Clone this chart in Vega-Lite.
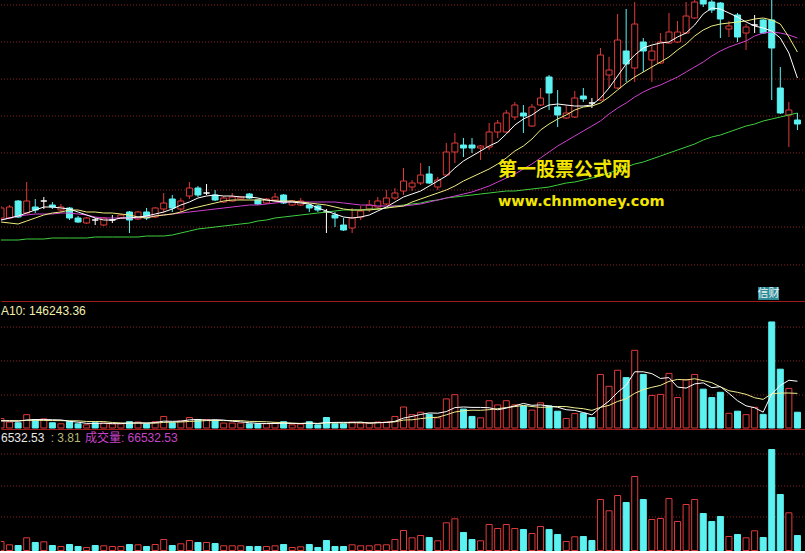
{
"$schema":"https://vega.github.io/schema/vega-lite/v6.json",
"background":"#000000",
"padding":0,
"spacing":0,
"bounds":"flush",
"config":{"view":{"stroke":null},"scale":{"continuousPadding":0},"axisX":{"grid":false,"labels":false,"ticks":false,"domainColor":"#a01c1c","domainWidth":1,"titlePadding":0},"text":{"font":"Liberation Sans"}},
"resolve":{"scale":{"y":"independent"}},
"datasets":{
"g1":[{"g":29.5},{"g":25.8},{"g":22.1},{"g":18.4},{"g":14.7},{"g":11.0},{"g":7.3},{"g":3.5}],
"g2":[{"g":426624},{"g":283008},{"g":139392}],
"g3":[{"g":427978},{"g":286058},{"g":148573}],
"k":[
{"i":0,"o":8.2,"h":9.4,"l":8.1,"c":9.2,"d":"u","v":39915,"m5":8.0,"m10":7.8,"m20":8.0,"m60":6.0,"v5":30000,"v10":31000},
{"i":1,"o":8.2,"h":9.5,"l":8.1,"c":9.3,"d":"u","v":25280,"m5":8.2,"m10":7.7,"m20":8.2,"m60":6.0,"v5":29000,"v10":31500},
{"i":2,"o":9.9,"h":10.0,"l":8.2,"c":8.3,"d":"d","v":22175,"m5":8.4,"m10":7.6,"m20":8.4,"m60":6.0,"v5":28500,"v10":31000},
{"i":3,"o":8.7,"h":11.8,"l":8.6,"c":9.9,"d":"u","v":56325,"m5":8.7,"m10":7.9,"m20":8.5,"m60":6.1,"v5":34000,"v10":32000},
{"i":4,"o":9.3,"h":10.1,"l":8.7,"c":9.0,"d":"d","v":35480,"m5":9.0,"m10":8.2,"m20":8.6,"m60":6.1,"v5":35835,"v10":32500},
{"i":5,"o":9.9,"h":10.3,"l":9.1,"c":9.9,"d":"fu","v":38585,"m5":9.3,"m10":8.5,"m20":8.6,"m60":6.1,"v5":35569,"v10":32000},
{"i":6,"o":9.5,"h":9.8,"l":9.1,"c":9.3,"d":"d","v":22175,"m5":9.3,"m10":8.7,"m20":8.6,"m60":6.2,"v5":34948,"v10":31500},
{"i":7,"o":9.0,"h":9.6,"l":8.8,"c":9.3,"d":"u","v":17740,"m5":9.2,"m10":8.8,"m20":8.7,"m60":6.2,"v5":34061,"v10":31000},
{"i":8,"o":9.2,"h":9.3,"l":8.0,"c":8.2,"d":"d","v":26610,"m5":9.1,"m10":9.0,"m20":8.7,"m60":6.2,"v5":28118,"v10":30500},
{"i":9,"o":8.2,"h":8.4,"l":7.7,"c":7.8,"d":"d","v":17740,"m5":8.8,"m10":9.0,"m20":8.6,"m60":6.2,"v5":24570,"v10":30203},
{"i":10,"o":7.7,"h":8.3,"l":7.6,"c":8.2,"d":"u","v":13305,"m5":8.5,"m10":8.8,"m20":8.5,"m60":6.2,"v5":19514,"v10":27542},
{"i":11,"o":8.0,"h":8.2,"l":7.5,"c":8.0,"d":"fd","v":22175,"m5":8.2,"m10":8.8,"m20":8.3,"m60":6.3,"v5":19514,"v10":27231},
{"i":12,"o":7.5,"h":8.3,"l":7.4,"c":8.2,"d":"u","v":20845,"m5":8.0,"m10":8.7,"m20":8.2,"m60":6.3,"v5":20135,"v10":27098},
{"i":13,"o":8.0,"h":8.5,"l":7.7,"c":8.0,"d":"fu","v":17740,"m5":8.0,"m10":8.7,"m20":8.2,"m60":6.3,"v5":18361,"v10":23240},
{"i":14,"o":8.2,"h":8.6,"l":8.1,"c":8.5,"d":"u","v":17740,"m5":8.2,"m10":8.6,"m20":8.2,"m60":6.3,"v5":18361,"v10":21466},
{"i":15,"o":8.8,"h":8.9,"l":6.7,"c":8.0,"d":"d","v":26610,"m5":8.2,"m10":8.5,"m20":8.2,"m60":6.3,"v5":21022,"v10":20268},
{"i":16,"o":8.1,"h":8.9,"l":8.0,"c":8.8,"d":"u","v":25280,"m5":8.3,"m10":8.3,"m20":8.2,"m60":6.3,"v5":21643,"v10":20579},
{"i":17,"o":8.8,"h":9.2,"l":8.0,"c":8.2,"d":"d","v":17740,"m5":8.4,"m10":8.2,"m20":8.3,"m60":6.4,"v5":21022,"v10":20579},
{"i":18,"o":8.3,"h":9.3,"l":8.2,"c":9.2,"d":"u","v":26610,"m5":8.6,"m10":8.4,"m20":8.4,"m60":6.4,"v5":22796,"v10":20579},
{"i":19,"o":9.1,"h":10.7,"l":8.7,"c":9.7,"d":"u","v":48785,"m5":8.8,"m10":8.5,"m20":8.5,"m60":6.4,"v5":29005,"v10":23683},
{"i":20,"o":10.1,"h":10.5,"l":8.8,"c":9.2,"d":"d","v":22175,"m5":9.1,"m10":8.6,"m20":8.6,"m60":6.5,"v5":28118,"v10":24570},
{"i":21,"o":9.1,"h":10.2,"l":8.8,"c":9.9,"d":"u","v":29715,"m5":9.5,"m10":8.8,"m20":8.7,"m60":6.7,"v5":29005,"v10":25324},
{"i":22,"o":10.4,"h":11.8,"l":10.1,"c":11.2,"d":"u","v":44350,"m5":9.8,"m10":9.1,"m20":8.8,"m60":6.9,"v5":34327,"v10":27675},
{"i":23,"o":11.2,"h":11.4,"l":10.3,"c":10.5,"d":"d","v":35480,"m5":10.2,"m10":9.3,"m20":8.9,"m60":7.1,"v5":36101,"v10":29449},
{"i":24,"o":10.7,"h":11.6,"l":10.5,"c":10.7,"d":"fu","v":35480,"m5":10.4,"m10":9.5,"m20":9.0,"m60":7.2,"v5":33440,"v10":31223},
{"i":25,"o":10.5,"h":11.0,"l":9.9,"c":10.0,"d":"d","v":31045,"m5":10.5,"m10":9.7,"m20":9.1,"m60":7.3,"v5":35214,"v10":31666},
{"i":26,"o":9.8,"h":10.4,"l":9.7,"c":10.2,"d":"u","v":20845,"m5":10.4,"m10":9.9,"m20":9.2,"m60":7.4,"v5":33440,"v10":31223},
{"i":27,"o":9.9,"h":10.7,"l":9.8,"c":10.3,"d":"u","v":20845,"m5":10.4,"m10":10.0,"m20":9.3,"m60":7.5,"v5":28739,"v10":31533},
{"i":28,"o":10.1,"h":10.4,"l":10.0,"c":10.3,"d":"u","v":20845,"m5":10.3,"m10":10.0,"m20":9.4,"m60":7.6,"v5":25812,"v10":30957},
{"i":29,"o":10.6,"h":10.7,"l":10.1,"c":10.2,"d":"d","v":17740,"m5":10.3,"m10":10.0,"m20":9.5,"m60":7.7,"v5":22264,"v10":27852},
{"i":30,"o":10.0,"h":10.1,"l":9.5,"c":9.6,"d":"d","v":17740,"m5":10.2,"m10":10.0,"m20":9.5,"m60":7.9,"v5":19603,"v10":27409},
{"i":31,"o":9.7,"h":10.2,"l":9.6,"c":10.1,"d":"u","v":17740,"m5":10.0,"m10":10.0,"m20":9.6,"m60":8.0,"v5":18982,"v10":26211},
{"i":32,"o":10.0,"h":10.7,"l":9.9,"c":10.3,"d":"u","v":20845,"m5":9.9,"m10":9.9,"m20":9.7,"m60":8.2,"v5":18982,"v10":23861},
{"i":33,"o":10.5,"h":10.6,"l":9.6,"c":9.7,"d":"d","v":26610,"m5":9.8,"m10":9.9,"m20":9.8,"m60":8.3,"v5":20135,"v10":22974},
{"i":34,"o":9.5,"h":10.0,"l":9.4,"c":9.9,"d":"u","v":13305,"m5":9.8,"m10":9.9,"m20":9.8,"m60":8.4,"v5":19248,"v10":20756},
{"i":35,"o":9.5,"h":10.2,"l":9.4,"c":9.9,"d":"u","v":16410,"m5":9.7,"m10":9.8,"m20":9.8,"m60":8.5,"v5":18982,"v10":19293},
{"i":36,"o":9.5,"h":9.6,"l":8.8,"c":9.2,"d":"d","v":26610,"m5":9.6,"m10":9.7,"m20":9.8,"m60":8.6,"v5":20756,"v10":19869},
{"i":37,"o":9.4,"h":9.5,"l":8.8,"c":9.0,"d":"d","v":13305,"m5":9.2,"m10":9.6,"m20":9.8,"m60":8.7,"v5":19248,"v10":19115},
{"i":38,"o":8.8,"h":9.1,"l":6.7,"c":8.8,"d":"fd","v":44350,"m5":8.9,"m10":9.5,"m20":9.8,"m60":8.8,"v5":22796,"v10":21466},
{"i":39,"o":8.5,"h":8.8,"l":7.3,"c":8.2,"d":"d","v":17740,"m5":8.6,"m10":9.3,"m20":9.8,"m60":8.9,"v5":23683,"v10":21466},
{"i":40,"o":7.5,"h":8.2,"l":6.9,"c":7.0,"d":"d","v":17740,"m5":8.3,"m10":9.1,"m20":9.7,"m60":9.0,"v5":23949,"v10":21466},
{"i":41,"o":7.2,"h":9.2,"l":6.7,"c":8.2,"d":"u","v":25280,"m5":8.2,"m10":9.0,"m20":9.6,"m60":9.0,"v5":23683,"v10":22220},
{"i":42,"o":8.3,"h":9.4,"l":8.0,"c":8.9,"d":"u","v":20845,"m5":8.3,"m10":9.0,"m20":9.5,"m60":9.0,"v5":25191,"v10":22220},
{"i":43,"o":9.1,"h":10.0,"l":8.8,"c":9.5,"d":"u","v":20845,"m5":8.5,"m10":9.0,"m20":9.5,"m60":9.1,"v5":20490,"v10":21643},
{"i":44,"o":9.3,"h":10.3,"l":9.0,"c":9.9,"d":"u","v":25280,"m5":8.9,"m10":9.1,"m20":9.4,"m60":9.1,"v5":21998,"v10":22841},
{"i":45,"o":9.6,"h":11.0,"l":9.5,"c":10.2,"d":"u","v":25280,"m5":9.3,"m10":9.2,"m20":9.4,"m60":9.2,"v5":23506,"v10":23728},
{"i":46,"o":10.2,"h":11.2,"l":10.0,"c":10.7,"d":"u","v":48785,"m5":9.8,"m10":9.3,"m20":9.4,"m60":9.4,"v5":28207,"v10":25945},
{"i":47,"o":10.9,"h":13.2,"l":10.5,"c":11.9,"d":"u","v":88700,"m5":10.3,"m10":9.4,"m20":9.4,"m60":9.5,"v5":41778,"v10":33485},
{"i":48,"o":11.3,"h":12.0,"l":10.9,"c":11.7,"d":"u","v":56325,"m5":10.6,"m10":9.8,"m20":9.5,"m60":9.6,"v5":48874,"v10":34682},
{"i":49,"o":11.7,"h":13.7,"l":11.5,"c":12.5,"d":"u","v":66525,"m5":10.9,"m10":10.1,"m20":9.6,"m60":9.7,"v5":57123,"v10":39561},
{"i":50,"o":12.6,"h":13.4,"l":11.6,"c":11.7,"d":"d","v":57655,"m5":11.4,"m10":10.4,"m20":9.8,"m60":9.9,"v5":63598,"v10":43552},
{"i":51,"o":11.3,"h":12.3,"l":11.0,"c":12.0,"d":"u","v":43020,"m5":11.9,"m10":10.7,"m20":10.0,"m60":10.0,"v5":62445,"v10":45326},
{"i":52,"o":12.5,"h":15.7,"l":12.4,"c":14.8,"d":"u","v":122850,"m5":12.4,"m10":11.0,"m20":10.2,"m60":10.2,"v5":69275,"v10":55527},
{"i":53,"o":14.8,"h":16.7,"l":13.7,"c":15.7,"d":"u","v":140590,"m5":13.2,"m10":11.4,"m20":10.4,"m60":10.3,"v5":86128,"v10":67501},
{"i":54,"o":15.5,"h":16.2,"l":14.3,"c":15.2,"d":"d","v":79830,"m5":13.9,"m10":11.9,"m20":10.6,"m60":10.4,"v5":88789,"v10":72956},
{"i":55,"o":15.5,"h":16.2,"l":14.7,"c":15.2,"d":"d","v":48785,"m5":14.4,"m10":12.3,"m20":10.8,"m60":10.5,"v5":87015,"v10":75307},
{"i":56,"o":15.2,"h":15.5,"l":14.0,"c":15.4,"d":"u","v":43020,"m5":14.9,"m10":12.7,"m20":11.1,"m60":10.6,"v5":87015,"v10":74730},
{"i":57,"o":15.3,"h":17.7,"l":15.0,"c":16.8,"d":"u","v":115310,"m5":15.4,"m10":13.1,"m20":11.4,"m60":10.7,"v5":85507,"v10":77391},
{"i":58,"o":16.8,"h":18.0,"l":16.2,"c":17.7,"d":"u","v":97570,"m5":15.8,"m10":13.6,"m20":11.8,"m60":10.8,"v5":76903,"v10":81516},
{"i":59,"o":16.8,"h":19.0,"l":16.7,"c":18.7,"d":"u","v":115310,"m5":16.6,"m10":14.2,"m20":12.2,"m60":10.9,"v5":83999,"v10":86394},
{"i":60,"o":18.3,"h":19.8,"l":18.0,"c":19.5,"d":"u","v":97570,"m5":17.5,"m10":14.9,"m20":12.6,"m60":10.9,"v5":93756,"v10":90386},
{"i":61,"o":18.7,"h":19.5,"l":16.7,"c":18.4,"d":"d","v":93135,"m5":18.1,"m10":15.4,"m20":13.1,"m60":11.0,"v5":103779,"v10":95397},
{"i":62,"o":17.4,"h":19.6,"l":17.3,"c":19.3,"d":"u","v":75395,"m5":18.5,"m10":16.1,"m20":13.6,"m60":11.1,"v5":95796,"v10":90652},
{"i":63,"o":19.5,"h":21.2,"l":19.4,"c":20.2,"d":"u","v":106440,"m5":19.1,"m10":17.0,"m20":14.2,"m60":11.2,"v5":97570,"v10":87237},
{"i":64,"o":22.3,"h":22.5,"l":19.0,"c":20.7,"d":"d","v":93135,"m5":19.5,"m10":17.6,"m20":14.8,"m60":11.3,"v5":93135,"v10":88567},
{"i":65,"o":19.3,"h":21.0,"l":17.3,"c":18.5,"d":"d","v":70960,"m5":19.6,"m10":18.1,"m20":15.4,"m60":11.5,"v5":87813,"v10":90785},
{"i":66,"o":18.2,"h":19.5,"l":18.1,"c":18.7,"d":"u","v":39915,"m5":19.5,"m10":18.5,"m20":15.9,"m60":11.7,"v5":77169,"v10":90474},
{"i":67,"o":18.3,"h":20.9,"l":18.2,"c":20.2,"d":"u","v":60760,"m5":19.4,"m10":19.0,"m20":16.4,"m60":11.8,"v5":74242,"v10":85019},
{"i":68,"o":20.4,"h":21.2,"l":19.8,"c":20.1,"d":"d","v":62090,"m5":19.4,"m10":19.3,"m20":16.9,"m60":12.0,"v5":65372,"v10":81471},
{"i":69,"o":19.7,"h":20.2,"l":19.2,"c":19.7,"d":"fd","v":44350,"m5":19.5,"m10":19.4,"m20":17.4,"m60":12.2,"v5":55615,"v10":74375},
{"i":70,"o":20.0,"h":25.2,"l":19.9,"c":24.5,"d":"u","v":226185,"m5":20.2,"m10":19.7,"m20":17.9,"m60":12.4,"v5":86660,"v10":87237},
{"i":71,"o":22.5,"h":24.3,"l":21.2,"c":23.0,"d":"u","v":176070,"m5":21.2,"m10":20.3,"m20":18.6,"m60":12.7,"v5":113891,"v10":95530},
{"i":72,"o":21.2,"h":28.6,"l":21.1,"c":26.0,"d":"u","v":243925,"m5":22.4,"m10":21.0,"m20":19.2,"m60":13.0,"v5":150524,"v10":112383},
{"i":73,"o":24.9,"h":29.1,"l":21.8,"c":23.6,"d":"d","v":212880,"m5":23.6,"m10":21.7,"m20":19.7,"m60":13.3,"v5":180682,"v10":123027},
{"i":74,"o":23.2,"h":29.8,"l":21.8,"c":27.6,"d":"u","v":328190,"m5":24.5,"m10":22.3,"m20":20.3,"m60":13.6,"v5":237450,"v10":146533},
{"i":75,"o":25.8,"h":26.2,"l":22.8,"c":24.9,"d":"d","v":226185,"m5":25.2,"m10":22.8,"m20":20.8,"m60":13.8,"v5":237450,"v10":162055},
{"i":76,"o":24.0,"h":25.5,"l":21.8,"c":24.9,"d":"u","v":137485,"m5":25.5,"m10":23.3,"m20":21.2,"m60":14.1,"v5":229733,"v10":171812},
{"i":77,"o":23.7,"h":26.7,"l":23.6,"c":25.8,"d":"u","v":141920,"m5":25.7,"m10":23.8,"m20":21.5,"m60":14.4,"v5":209332,"v10":179928},
{"i":78,"o":25.7,"h":28.7,"l":25.6,"c":26.8,"d":"u","v":230620,"m5":25.8,"m10":24.3,"m20":21.9,"m60":14.7,"v5":212880,"v10":196781},
{"i":79,"o":25.8,"h":27.9,"l":25.7,"c":26.8,"d":"u","v":128615,"m5":26.3,"m10":25.0,"m20":22.3,"m60":15.0,"v5":172965,"v10":205208},
{"i":80,"o":26.7,"h":29.8,"l":26.6,"c":28.4,"d":"u","v":204010,"m5":26.7,"m10":25.6,"m20":22.8,"m60":15.3,"v5":168530,"v10":202990},
{"i":81,"o":28.2,"h":30.3,"l":28.1,"c":29.8,"d":"u","v":226185,"m5":27.5,"m10":26.4,"m20":23.3,"m60":15.6,"v5":186270,"v10":208002},
{"i":82,"o":30.6,"h":31.0,"l":29.3,"c":29.6,"d":"d","v":164095,"m5":28.6,"m10":27.0,"m20":23.8,"m60":16.0,"v5":190705,"v10":200019},
{"i":83,"o":29.8,"h":30.0,"l":28.7,"c":29.0,"d":"d","v":128615,"m5":29.2,"m10":27.4,"m20":24.4,"m60":16.3,"v5":170304,"v10":191592},
{"i":84,"o":29.7,"h":29.8,"l":26.2,"c":28.1,"d":"d","v":150790,"m5":29.1,"m10":27.6,"m20":24.9,"m60":16.5,"v5":174739,"v10":173852},
{"i":85,"o":27.1,"h":27.9,"l":26.3,"c":27.4,"d":"u","v":62090,"m5":28.7,"m10":27.7,"m20":25.3,"m60":16.8,"v5":146355,"v10":157443},
{"i":86,"o":28.5,"h":28.7,"l":25.8,"c":26.3,"d":"d","v":70960,"m5":28.3,"m10":27.8,"m20":25.6,"m60":17.1,"v5":115310,"v10":150790},
{"i":87,"o":26.7,"h":27.6,"l":25.0,"c":27.3,"d":"u","v":56325,"m5":27.8,"m10":27.9,"m20":25.9,"m60":17.4,"v5":93756,"v10":142231},
{"i":88,"o":27.5,"h":28.5,"l":26.7,"c":27.5,"d":"fu","v":87370,"m5":27.4,"m10":28.1,"m20":26.4,"m60":17.6,"v5":85507,"v10":127906},
{"i":89,"o":28.0,"h":28.1,"l":26.6,"c":26.7,"d":"d","v":57655,"m5":27.2,"m10":28.2,"m20":26.7,"m60":17.9,"v5":66880,"v10":120810},
{"i":90,"o":28.0,"h":30.0,"l":20.0,"c":25.2,"d":"d","v":447935,"m5":26.9,"m10":28.0,"m20":26.8,"m60":18.1,"v5":144049,"v10":145202},
{"i":91,"o":21.2,"h":23.3,"l":18.6,"c":18.7,"d":"d","v":248360,"m5":26.2,"m10":27.6,"m20":26.7,"m60":18.3,"v5":179529,"v10":147420},
{"i":92,"o":18.5,"h":19.8,"l":15.3,"c":19.0,"d":"u","v":167200,"m5":24.7,"m10":26.3,"m20":26.5,"m60":18.5,"v5":201704,"v10":147730},
{"i":93,"o":18.0,"h":18.7,"l":17.0,"c":17.6,"d":"d","v":66533,"m5":22.2,"m10":24.8,"m20":26.2,"m60":18.7,"v5":197536,"v10":146243}
]},
"vconcat":[
{"width":805,"height":301,"data":{"name":"k"},
"layer":[
{"data":{"name":"g1"},"mark":{"type":"rule","stroke":"#8a2020","strokeDash":[1,2],"strokeWidth":1},"encoding":{"y":{"field":"g","type":"quantitative","axis":null,"scale":{"domain":[-0.1,30],"nice":false,"zero":false}}}},
{"mark":{"type":"rule","strokeWidth":1,"clip":true},"encoding":{"x":{"field":"i","type":"quantitative","title":null,"scale":{"domain":[0,94],"nice":false,"zero":false,"padding":0}},"y":{"field":"l","type":"quantitative","axis":null,"scale":{"domain":[-0.1,30],"nice":false,"zero":false}},"y2":{"field":"h"},"color":{"condition":[{"test":"datum.d==='u'","value":"#e03a3a"},{"test":"datum.d==='d'","value":"#5cf2f2"}],"value":"#ffffff"}}},
{"mark":{"type":"bar","orient":"vertical","size":6,"strokeWidth":1,"clip":true},"encoding":{"x":{"field":"i","type":"quantitative","title":null,"scale":{"domain":[0,94],"nice":false,"zero":false,"padding":0}},"y":{"field":"o","type":"quantitative","axis":null,"scale":{"domain":[-0.1,30],"nice":false,"zero":false}},"y2":{"field":"c"},"fill":{"condition":[{"test":"datum.d==='u'","value":"#000000"},{"test":"datum.d==='d'","value":"#5cf2f2"}],"value":"#ffffff"},"stroke":{"condition":[{"test":"datum.d==='u'","value":"#e03a3a"},{"test":"datum.d==='d'","value":"#5cf2f2"}],"value":"#ffffff"}}},
{"mark":{"type":"line","color":"#3fcf3f","strokeWidth":1,"clip":true},"encoding":{"x":{"field":"i","type":"quantitative","title":null,"scale":{"domain":[0,94],"nice":false,"zero":false,"padding":0}},"y":{"field":"m60","type":"quantitative","axis":null,"scale":{"domain":[-0.1,30],"nice":false,"zero":false}}}},
{"mark":{"type":"line","color":"#d040d0","strokeWidth":1,"clip":true},"encoding":{"x":{"field":"i","type":"quantitative","title":null,"scale":{"domain":[0,94],"nice":false,"zero":false,"padding":0}},"y":{"field":"m20","type":"quantitative","axis":null,"scale":{"domain":[-0.1,30],"nice":false,"zero":false}}}},
{"mark":{"type":"line","color":"#eeee80","strokeWidth":1,"clip":true},"encoding":{"x":{"field":"i","type":"quantitative","title":null,"scale":{"domain":[0,94],"nice":false,"zero":false,"padding":0}},"y":{"field":"m10","type":"quantitative","axis":null,"scale":{"domain":[-0.1,30],"nice":false,"zero":false}}}},
{"mark":{"type":"line","color":"#ffffff","strokeWidth":1,"clip":true},"encoding":{"x":{"field":"i","type":"quantitative","title":null,"scale":{"domain":[0,94],"nice":false,"zero":false,"padding":0}},"y":{"field":"m5","type":"quantitative","axis":null,"scale":{"domain":[-0.1,30],"nice":false,"zero":false}}}},
{"data":{"values":[{}]},"mark":{"type":"text","text":"第一股票公式网","font":"Noto Sans CJK SC","fontWeight":"bold","fontSize":19,"color":"#f2e600","align":"left","baseline":"middle"},"encoding":{"x":{"datum":58.03,"type":"quantitative","scale":{"domain":[0,94],"nice":false,"zero":false,"padding":0}},"y":{"datum":13.0,"type":"quantitative","scale":{"domain":[-0.1,30],"nice":false,"zero":false}}}},
{"data":{"values":[{}]},"mark":{"type":"text","text":"www.chnmoney.com","font":"DejaVu Sans","fontWeight":"bold","fontSize":14.5,"color":"#f2e600","align":"left","baseline":"middle"},"encoding":{"x":{"datum":58.03,"type":"quantitative","scale":{"domain":[0,94],"nice":false,"zero":false,"padding":0}},"y":{"datum":9.8,"type":"quantitative","scale":{"domain":[-0.1,30],"nice":false,"zero":false}}}},
{"data":{"values":[{}]},"mark":{"type":"rect","color":"#2f8a98"},"encoding":{"x":{"datum":88.4,"type":"quantitative","scale":{"domain":[0,94],"nice":false,"zero":false,"padding":0}},"x2":{"datum":90.85},"y":{"datum":1.3,"type":"quantitative","scale":{"domain":[-0.1,30],"nice":false,"zero":false}},"y2":{"datum":0.0}}},
{"data":{"values":[{}]},"mark":{"type":"text","text":"信财","font":"Noto Sans CJK SC","fontSize":11,"color":"#e8f4f4","align":"center","baseline":"middle"},"encoding":{"x":{"datum":89.62,"type":"quantitative","scale":{"domain":[0,94],"nice":false,"zero":false,"padding":0}},"y":{"datum":0.65,"type":"quantitative","scale":{"domain":[-0.1,30],"nice":false,"zero":false}}}}
]},
{"width":805,"height":128,"data":{"name":"k"},
"layer":[
{"data":{"name":"g2"},"mark":{"type":"rule","stroke":"#8a2020","strokeDash":[1,2],"strokeWidth":1},"encoding":{"y":{"field":"g","type":"quantitative","axis":null,"scale":{"domain":[-4224,536448],"nice":false,"zero":false}}}},
{"mark":{"type":"bar","orient":"vertical","size":6,"strokeWidth":1,"clip":true},"encoding":{"x":{"field":"i","type":"quantitative","title":null,"scale":{"domain":[0,94],"nice":false,"zero":false,"padding":0}},"y":{"field":"v","type":"quantitative","axis":null,"scale":{"domain":[-4224,536448],"nice":false,"zero":false}},"y2":{"datum":0},"fill":{"condition":{"test":"datum.d==='u'||datum.d==='fu'","value":"#000000"},"value":"#5cf2f2"},"stroke":{"condition":{"test":"datum.d==='u'||datum.d==='fu'","value":"#e03a3a"},"value":"#5cf2f2"}}},
{"mark":{"type":"line","color":"#eeee90","strokeWidth":1,"clip":true},"encoding":{"x":{"field":"i","type":"quantitative","title":null,"scale":{"domain":[0,94],"nice":false,"zero":false,"padding":0}},"y":{"field":"v10","type":"quantitative","axis":null,"scale":{"domain":[-4224,536448],"nice":false,"zero":false}}}},
{"mark":{"type":"line","color":"#ffffff","strokeWidth":1,"clip":true},"encoding":{"x":{"field":"i","type":"quantitative","title":null,"scale":{"domain":[0,94],"nice":false,"zero":false,"padding":0}},"y":{"field":"v5","type":"quantitative","axis":null,"scale":{"domain":[-4224,536448],"nice":false,"zero":false}}}},
{"data":{"values":[{}]},"mark":{"type":"text","text":"A10: 146243.36","fontSize":12,"color":"#f0f0b0","align":"left","baseline":"middle"},"encoding":{"x":{"datum":0,"type":"quantitative","scale":{"domain":[0,94],"nice":false,"zero":false,"padding":0}},"y":{"datum":494208,"type":"quantitative","scale":{"domain":[-4224,536448],"nice":false,"zero":false}}}}
]},
{"width":805,"height":122,"data":{"name":"k"},
"layer":[
{"data":{"name":"g3"},"mark":{"type":"rule","stroke":"#8a2020","strokeDash":[1,2],"strokeWidth":1},"encoding":{"y":{"field":"g","type":"quantitative","axis":null,"scale":{"domain":[-2218,538853],"nice":false,"zero":false}}}},
{"mark":{"type":"bar","orient":"vertical","size":6,"strokeWidth":1,"clip":true},"encoding":{"x":{"field":"i","type":"quantitative","title":null,"scale":{"domain":[0,94],"nice":false,"zero":false,"padding":0}},"y":{"field":"v","type":"quantitative","axis":null,"scale":{"domain":[-2218,538853],"nice":false,"zero":false}},"y2":{"datum":0},"fill":{"condition":{"test":"datum.d==='u'||datum.d==='fu'","value":"#000000"},"value":"#5cf2f2"},"stroke":{"condition":{"test":"datum.d==='u'||datum.d==='fu'","value":"#e03a3a"},"value":"#5cf2f2"}}},
{"data":{"values":[{}]},"mark":{"type":"text","text":"6532.53","fontSize":12,"color":"#e8e8e8","align":"left","baseline":"middle"},"encoding":{"x":{"datum":0,"type":"quantitative","scale":{"domain":[0,94],"nice":false,"zero":false,"padding":0}},"y":{"datum":498938,"type":"quantitative","scale":{"domain":[-2218,538853],"nice":false,"zero":false}}}},
{"data":{"values":[{}]},"mark":{"type":"text","text":": 3.81","fontSize":12,"color":"#b8b878","align":"left","baseline":"middle"},"encoding":{"x":{"datum":5.8,"type":"quantitative","scale":{"domain":[0,94],"nice":false,"zero":false,"padding":0}},"y":{"datum":498938,"type":"quantitative","scale":{"domain":[-2218,538853],"nice":false,"zero":false}}}},
{"data":{"values":[{}]},"mark":{"type":"text","text":"成交量: 66532.53","font":"Liberation Sans, Noto Sans CJK SC","fontSize":12,"color":"#c844c8","align":"left","baseline":"middle"},"encoding":{"x":{"datum":9.8,"type":"quantitative","scale":{"domain":[0,94],"nice":false,"zero":false,"padding":0}},"y":{"datum":498938,"type":"quantitative","scale":{"domain":[-2218,538853],"nice":false,"zero":false}}}}
]}
]
}
